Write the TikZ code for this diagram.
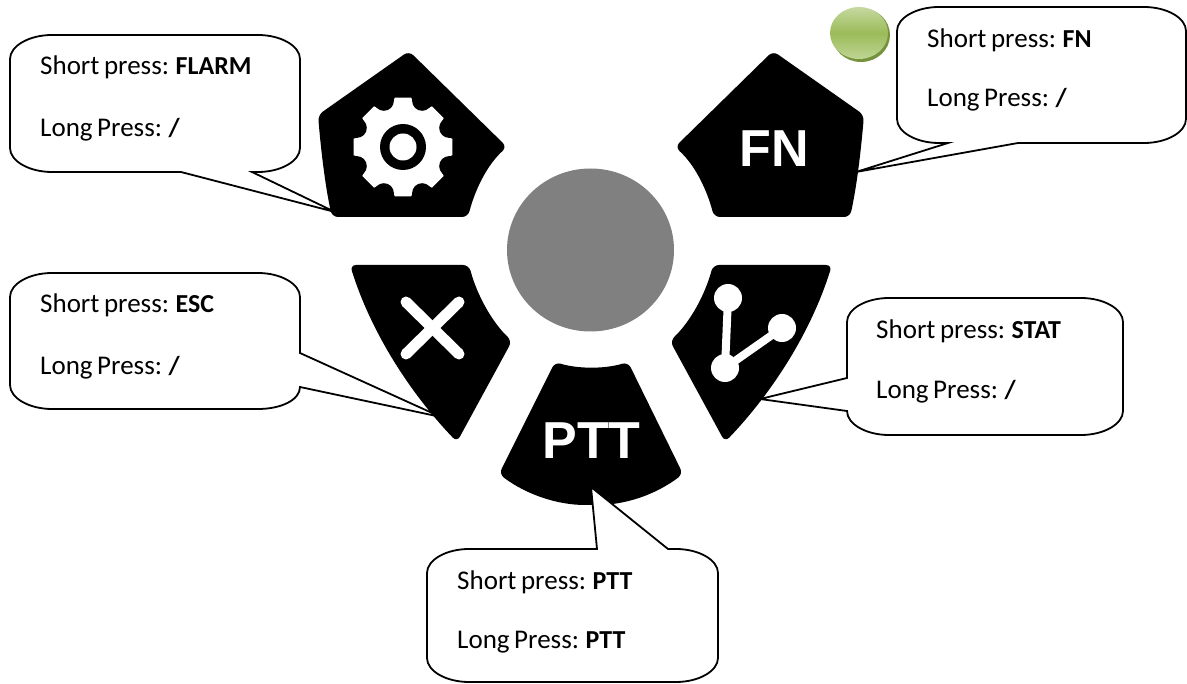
\documentclass[tikz,border=0pt]{standalone}
\usepackage{fontspec}
\setmainfont{Carlito}[WordSpace=0.75,BoldFeatures={Scale=0.96}]
\newfontfamily\iconfont{Liberation Sans}
\definecolor{knobgray}{RGB}{128,128,128}
\definecolor{ledgreen}{RGB}{155,187,89}
\definecolor{ledlight}{RGB}{198,217,160}
\definecolor{leddark}{RGB}{118,146,60}
\tikzset{
  keyshape/.style={fill=black, rounded corners=6pt},
  keylabel/.style={text=white, inner sep=0pt, font=\iconfont\bfseries\fontsize{52}{52}\selectfont},
  calloutline/.style={draw=black, fill=white, line width=1.8pt, line join=miter},
  calltext/.style={anchor=base west, inner sep=0pt, font=\fontsize{27}{32}\selectfont},
}
\begin{document}
\begin{tikzpicture}[x=1pt,y=-1pt]
\useasboundingbox (0,0) rectangle (1187,684);
% Center knob
\fill[knobgray] (590.5,250) circle (83.5 and 81.5);
% Gear key
\fill[keyshape] (400,217) -- (332,217) .. controls (325,185) and (321,150) .. (318,115) -- (409,51) -- (507,147)
  .. controls (487,165) and (475,190) .. (468,217) -- cycle;
\begin{scope}[shift={(403,147)}]
  \fill[white] (0,0) circle (42);
  \foreach \a in {0,45,...,315} {
    \fill[white] (\a-20:38) -- (\a-9.5:50) -- (\a+9.5:50) -- (\a+20:38) -- cycle;
  }
  \foreach \a in {22.5,67.5,...,337.5} {
    \fill[black] (\a:50) circle (10);
  }
  \fill[black] (0,0) circle (23);
  \fill[white] (0,0) circle (13.5);
\end{scope}
% FN key
\fill[keyshape] (782,217) -- (850,217) .. controls (857,185) and (861,150) .. (864,115) -- (773,51) -- (675,147)
  .. controls (695,165) and (707,190) .. (714,217) -- cycle;
\node[keylabel] (fnlabel) at (774.5,149) {FN};
% Cancel key
\fill[keyshape] (410,265) -- (469,265) .. controls (477,295) and (492,322) .. (512,341)
  -- (457,442) .. controls (412,395) and (372,335) .. (350,265) -- cycle;
\draw[white, line width=11pt, line cap=round] (406,302) -- (459,354);
\draw[white, line width=11pt, line cap=round] (459,302) -- (406,354);
% Stat key
\fill[keyshape] (772,265) -- (713,265) .. controls (705,295) and (690,322) .. (670,341)
  -- (725,442) .. controls (770,395) and (810,335) .. (832,265) -- cycle;
\draw[white, line width=8pt] (728,298) -- (725,368) -- (782,328);
\foreach \x/\y in {728/298, 782/328, 725/368} {
  \fill[white] (\x,\y) circle (14);
}
% PTT key
\fill[keyshape] (527,418) -- (555,362) .. controls (578,369) and (605,369) .. (628,362) -- (683,474)
  .. controls (655,495) and (625,505) .. (591,505) .. controls (558,505) and (527,495) .. (499,474) -- cycle;
\node[keylabel] (pttlabel) at (591.5,441) {PTT};
% Green dot
\fill[leddark] (861,35) circle (29 and 27);
\shade[top color=ledlight, bottom color=ledlight!85!ledgreen, middle color=ledgreen]
  (859,33) circle (29 and 26);
% Callouts
\draw[calloutline] (52,35) -- (258,35) .. controls +(23,0) and +(0,-13) .. (300,59) -- (300,148)
  .. controls +(0,13) and +(23,0) .. (258,172) -- (252,172) -- (335,212) -- (181,172) -- (52,172)
  .. controls +(-23,0) and +(0,13) .. (10,148) -- (10,59) .. controls +(0,-13) and +(-23,0) .. (52,35) -- cycle;
\node[calltext] (flarmshort) at (40,75) {Short press: \textbf{FLARM}};
\node[calltext] (flarmlong) at (40,137) {Long Press: \textbf{/}};
\draw[calloutline] (52,273) -- (258,273) .. controls +(23,0) and +(0,-13) .. (300,297) -- (300,353)
  -- (441,417) -- (300,387) .. controls +(0,13) and +(23,0) .. (258,409) -- (52,409)
  .. controls +(-23,0) and +(0,13) .. (10,385) -- (10,297) .. controls +(0,-13) and +(-23,0) .. (52,273) -- cycle;
\node[calltext] (escshort) at (40,313) {Short press: \textbf{ESC}};
\node[calltext] (esclong) at (40,375) {Long Press: \textbf{/}};
\draw[calloutline] (889,298) -- (1081,298) .. controls +(23,0) and +(0,-13) .. (1123,322) -- (1123,411)
  .. controls +(0,13) and +(23,0) .. (1081,435) -- (889,435) .. controls +(-23,0) and +(0,13) .. (847,411)
  -- (760,399) -- (847,378) -- (847,322) .. controls +(0,-13) and +(-23,0) .. (889,298) -- cycle;
\node[calltext] (statshort) at (876,339) {Short press: \textbf{STAT}};
\node[calltext] (statlong) at (876,399) {Long Press: \textbf{/}};
\draw[calloutline] (469,549) -- (597,549) -- (591,487) -- (668,549) -- (676,549)
  .. controls +(23,0) and +(0,-13) .. (718,573) -- (718,658) .. controls +(0,13) and +(23,0) .. (676,682)
  -- (469,682) .. controls +(-23,0) and +(0,13) .. (427,658) -- (427,573)
  .. controls +(0,-13) and +(-23,0) .. (469,549) -- cycle;
\node[calltext] (pttshort) at (457,590) {Short press: \textbf{PTT}};
\node[calltext] (pttlong) at (457,648) {Long Press: \textbf{PTT}};
\draw[calloutline] (939,7) -- (1144,7) .. controls +(23,0) and +(0,-13) .. (1186,31) -- (1186,119)
  .. controls +(0,13) and +(23,0) .. (1144,143) -- (1018,143) -- (856,172) -- (948,143) -- (939,143)
  .. controls +(-23,0) and +(0,13) .. (897,119) -- (897,31) .. controls +(0,-13) and +(-23,0) .. (939,7) -- cycle;
\node[calltext] (fnshort) at (927,48) {Short press: \textbf{FN}};
\node[calltext] (fnlong) at (927,107) {Long Press: \textbf{/}};
\end{tikzpicture}
\end{document}
